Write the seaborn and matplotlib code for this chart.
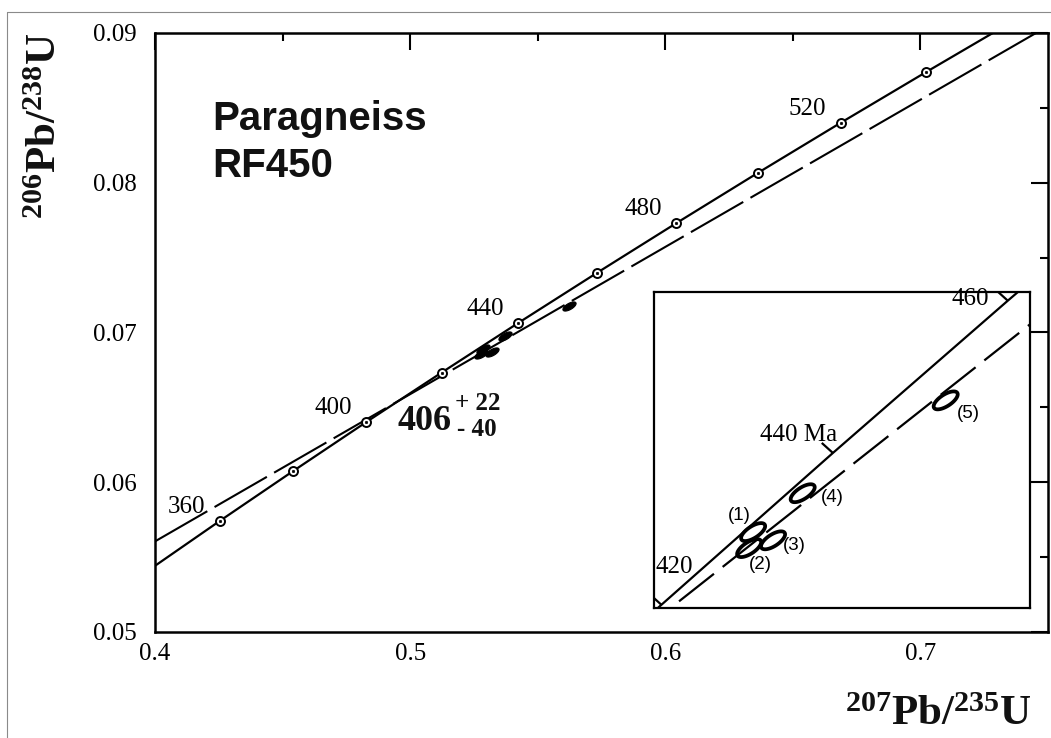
import numpy as np
import pandas as pd
import matplotlib
matplotlib.use("Agg")
import matplotlib.pyplot as plt
import seaborn as sns
from matplotlib.path import Path
from matplotlib.lines import Line2D

# ---------------- data ----------------
conc_age = [340, 360, 380, 400, 420, 440, 460, 480, 500, 520, 540, 560]
conc_x = [0.3978, 0.4255, 0.4539, 0.4828, 0.5123, 0.5424, 0.5731, 0.6043, 0.6362, 0.6688, 0.7021, 0.7359]
conc_y = [0.05416, 0.05743, 0.06072, 0.06402, 0.06732, 0.07064, 0.07397, 0.07730, 0.08065, 0.08401, 0.08738, 0.09075]
marker_ages = [360, 380, 400, 420, 440, 460, 480, 500, 520, 540]
label_ages = [360, 400, 440, 480, 520]
inset_ages = [420, 440, 460]

disc_x = [0.400, 0.7453]
disc_y = [0.05605, 0.0900]

ell_id = ["(1)", "(2)", "(3)", "(4)", "(5)"]
ell_x = [0.5284, 0.5277, 0.5319, 0.5371, 0.5622]
ell_y = [0.06891, 0.06856, 0.06873, 0.06976, 0.07179]

xticks_major = [0.4, 0.5, 0.6, 0.7]
xticks_minor = [0.45, 0.55, 0.65]
yticks_major = [0.05, 0.06, 0.07, 0.08, 0.09]
yticks_minor = [0.055, 0.065, 0.075, 0.085]

# ---------------- style ----------------
sns.set_theme(style="white")
SERIF = "Liberation Serif"
SANS = "Liberation Sans"
plt.rcParams["font.family"] = [SERIF, "DejaVu Serif"]
plt.rcParams["text.color"] = "black"
plt.rcParams["axes.labelcolor"] = "black"
plt.rcParams["xtick.color"] = "black"
plt.rcParams["ytick.color"] = "black"
plt.rcParams["mathtext.fontset"] = "custom"
plt.rcParams["mathtext.rm"] = "Liberation Serif:bold"
plt.rcParams["mathtext.bf"] = "Liberation Serif:bold"
plt.rcParams["mathtext.it"] = "Liberation Serif:bold:italic"
plt.rcParams["mathtext.default"] = "rm"

df = pd.DataFrame({"age": conc_age, "x": conc_x, "y": conc_y})
df_disc = pd.DataFrame({"x": disc_x, "y": disc_y})
df_ell = pd.DataFrame({"id": ell_id, "x": ell_x, "y": ell_y})


def ellipse_path(ratio, angle_deg):
    t = np.linspace(0, 2 * np.pi, 73)
    ex, ey = np.cos(t), ratio * np.sin(t)
    th = np.deg2rad(angle_deg)
    rx = ex * np.cos(th) - ey * np.sin(th)
    ry = ex * np.sin(th) + ey * np.cos(th)
    return Path(np.column_stack([rx, ry]), closed=True)


W, H = 1051, 738
fig = plt.figure(figsize=(W / 100, H / 100), dpi=100)
fig.patch.set_facecolor("white")

# outer thin frame (top and left edges visible)
fig.add_artist(Line2D([7 / W, 1.0], [1 - 12 / H, 1 - 12 / H], transform=fig.transFigure,
                      color="#8a8a8a", lw=0.8))
fig.add_artist(Line2D([7 / W, 7 / W], [0.0, 1 - 12 / H], transform=fig.transFigure,
                      color="#8a8a8a", lw=0.8))

# ---------------- main axes ----------------
ax = fig.add_axes([155 / W, 1 - 632 / H, 893 / W, 599 / H])
ax.set_facecolor("white")

sns.lineplot(data=df, x="x", y="y", ax=ax, color="black", lw=1.6, sort=False,
             estimator=None, zorder=2)
sns.lineplot(data=df_disc, x="x", y="y", ax=ax, color="black", lw=1.5, sort=False,
             estimator=None, linestyle=(0, (29, 4)), zorder=2)

dm = df[df["age"].isin(marker_ages)]
sns.scatterplot(data=dm, x="x", y="y", ax=ax, marker="o", s=42, facecolor="white",
                edgecolor="black", linewidth=1.4, zorder=4)
sns.scatterplot(data=dm, x="x", y="y", ax=ax, marker="o", s=3, color="black",
                edgecolor="black", linewidth=0.5, zorder=5)

# small filled error ellipses on the main plot
ax.scatter(df_ell["x"], df_ell["y"], marker=ellipse_path(0.42, 30), s=90,
           facecolors="black", edgecolors="black", linewidths=0.8, zorder=3)

for a in label_ages:
    r = df[df["age"] == a].iloc[0]
    ax.annotate(str(a), (r["x"], r["y"]), xytext=(-24, 10), textcoords="offset points",
                ha="center", va="center", fontsize=18, family=SERIF, color="black")

ax.set_xlim(0.4, 0.75)
ax.set_ylim(0.05, 0.09)
ax.set_xticks(xticks_major)
ax.set_xticks(xticks_minor, minor=True)
ax.set_yticks(yticks_major)
ax.set_yticks(yticks_minor, minor=True)
ax.set_xticklabels([f"{v:.1f}" for v in xticks_major], fontsize=18, family=SERIF, color="black")
ax.set_yticklabels([f"{v:.2f}" for v in yticks_major], fontsize=18, family=SERIF, color="black")
ax.tick_params(which="both", direction="in", top=True, right=True, width=1.5,
               color="black")
ax.tick_params(which="major", length=12)
ax.tick_params(which="minor", length=6)
ax.tick_params(axis="x", which="major", pad=8)
ax.tick_params(axis="y", which="major", pad=13)
for s in ax.spines.values():
    s.set_linewidth(1.8)
    s.set_color("black")
ax.set_xlabel("")
ax.set_ylabel("")

# titles / annotations
ax.text(0.0638, 0.838, "Paragneiss", transform=ax.transAxes, ha="left", va="baseline",
        fontsize=29, fontweight="bold", family=SANS, color="#111111")
ax.text(0.0638, 0.760, "RF450", transform=ax.transAxes, ha="left", va="baseline",
        fontsize=29, fontweight="bold", family=SANS, color="#111111")

ax.text(0.271, 0.337, "406", transform=ax.transAxes, ha="left", va="baseline",
        fontsize=26, fontweight="bold", family=SERIF, color="#111111")
ax.text(0.336, 0.381, "+ 22", transform=ax.transAxes, ha="left", va="center",
        fontsize=18, fontweight="bold", family=SERIF, color="#111111")
ax.text(0.338, 0.338, "- 40", transform=ax.transAxes, ha="left", va="center",
        fontsize=18, fontweight="bold", family=SERIF, color="#111111")

# axis titles
fig.text(46 / W, 1 - 32 / H, r"$^{206}$Pb/$^{238}$U", rotation=90, ha="center", va="top",
         fontsize=31, fontweight="bold", family=SERIF, color="#111111")
fig.text(1032 / W, 1 - 725 / H, r"$^{207}$Pb/$^{235}$U", ha="right", va="baseline",
         fontsize=31, fontweight="bold", family=SERIF, color="#111111")

# ---------------- inset ----------------
ax2 = fig.add_axes([654 / W, 1 - 608 / H, 376 / W, 316 / H])
ax2.set_facecolor("white")
sns.lineplot(data=df, x="x", y="y", ax=ax2, color="black", lw=1.6, sort=False,
             estimator=None)
sns.lineplot(data=df_disc, x="x", y="y", ax=ax2, color="black", lw=1.6, sort=False,
             estimator=None, linestyle=(0, (20, 5)))
ax2.set_xlim(0.5110, 0.5770)
ax2.set_ylim(0.06725, 0.07416)

di = df[df["age"].isin(inset_ages)]
tick_path = Path([(0.0, 0.0), (-0.74, 0.67)])
ax2.scatter(di["x"], di["y"], marker=tick_path, s=256, facecolors="none",
            edgecolors="black", linewidths=1.6, zorder=4)

ax2.scatter(df_ell["x"], df_ell["y"], marker=ellipse_path(0.42, 33), s=300,
            facecolors="none", edgecolors="black", linewidths=2.7, zorder=5)

inset_lab = {420: ("420", (9.5, 27.5)), 440: ("440 Ma", (-25, 13)), 460: ("460", (-27, 1.5))}
for a in inset_ages:
    r = df[df["age"] == a].iloc[0]
    txt, off = inset_lab[a]
    ax2.annotate(txt, (r["x"], r["y"]), xytext=off, textcoords="offset points",
                 ha="center", va="center", fontsize=18, family=SERIF, color="black")

ell_off = [(-10, 12), (8, -12), (15, -3.6), (21, -3), (16, -9.4)]
for (i, r), off in zip(df_ell.iterrows(), ell_off):
    ax2.annotate(r["id"], (r["x"], r["y"]), xytext=off, textcoords="offset points",
                 ha="center", va="center", fontsize=13.5, family=SANS, color="black")

ax2.set_xticks([])
ax2.set_yticks([])
ax2.set_xlabel("")
ax2.set_ylabel("")
for s in ax2.spines.values():
    s.set_linewidth(1.6)
    s.set_color("black")
    s.set_visible(True)

fig.savefig("out.png", dpi=100, facecolor="white")
